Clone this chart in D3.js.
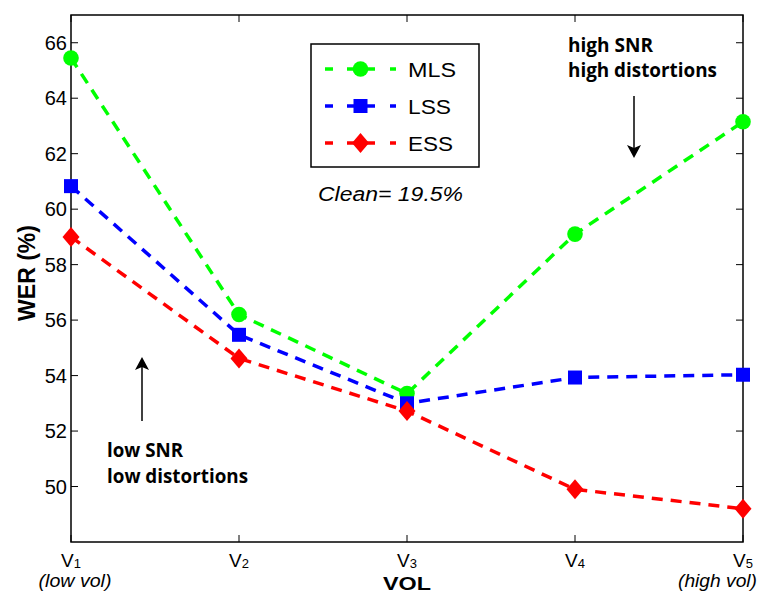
<!DOCTYPE html>
<html><head><meta charset="utf-8">
<script src="https://cdn.jsdelivr.net/npm/d3@7"></script>
<style>body{margin:0;background:#fff}</style>
</head><body>
<svg id="c" width="759" height="595"></svg>
<script>
const categories = ["1","2","3","4","5"];
const xSub = ["(low vol)","","","","(high vol)"];
const mls = [65.45, 56.2, 53.35, 59.1, 63.15];
const lss = [60.83, 55.47, 53.0, 53.93, 54.03];
const ess = [59.0, 54.62, 52.72, 49.9, 49.2];
const yTicks = [50,52,54,56,58,60,62,64,66];
const seriesNames = ["MLS","LSS","ESS"];

const svg = d3.select("#c");
const L=71, R=743, T=15, B=542;
const x = d3.scaleLinear().domain([1,5]).range([L,R]);
const y = d3.scaleLinear().domain([48,67]).range([B,T]);
const font = "'Liberation Sans', Arial, sans-serif";

svg.append("rect").attr("x",L).attr("y",T).attr("width",R-L).attr("height",B-T)
  .attr("fill","none").attr("stroke","#000").attr("stroke-width",1.5);

yTicks.forEach(v=>{
  const yy=y(v);
  svg.append("line").attr("x1",L).attr("x2",L+7).attr("y1",yy).attr("y2",yy).attr("stroke","#000");
  svg.append("line").attr("x1",R).attr("x2",R-7).attr("y1",yy).attr("y2",yy).attr("stroke","#000");
  svg.append("text").attr("x",L-4).attr("y",yy+7).attr("text-anchor","end")
    .attr("font-family",font).attr("font-size",20).text(v);
});
categories.forEach((c,i)=>{
  const xx=x(i+1);
  svg.append("line").attr("x1",xx).attr("x2",xx).attr("y1",B).attr("y2",B-7).attr("stroke","#000");
  svg.append("line").attr("x1",xx).attr("x2",xx).attr("y1",T).attr("y2",T+7).attr("stroke","#000");
  const t=svg.append("text").attr("x",xx).attr("y",567).attr("text-anchor","middle")
    .attr("font-family",font).attr("font-size",19);
  t.append("tspan").text("V");
  t.append("tspan").attr("font-size",13).attr("dy",1).text(c);
  if(xSub[i]){
    const last = i===categories.length-1;
    svg.append("text").attr("x",last?757:75).attr("y",587)
      .attr("text-anchor",last?"end":"middle")
      .attr("font-family",font).attr("font-size",18).attr("font-style","italic")
      .attr("textLength",last?79:73).attr("lengthAdjust","spacingAndGlyphs").text(xSub[i]);
  }
});

svg.append("text").attr("transform","translate(35,273) rotate(-90)").attr("text-anchor","middle")
  .attr("font-family",font).attr("font-size",23).attr("font-weight","bold").text("WER (%)");
svg.append("text").attr("x",407).attr("y",590).attr("text-anchor","middle")
  .attr("font-family",font).attr("font-size",19).attr("font-weight","bold")
  .attr("textLength",48).attr("lengthAdjust","spacingAndGlyphs").text("VOL");

const colors = ["#00ff00","#0000ff","#ff0000"];
const data = [mls, lss, ess];
const line = d3.line().x((d,i)=>x(i+1)).y(d=>y(d));
function marker(g,k,cx,cy){
  if(k===0) g.append("circle").attr("cx",cx).attr("cy",cy).attr("r",7.8).attr("fill",colors[k]);
  else if(k===1) g.append("rect").attr("x",cx-7).attr("y",cy-7).attr("width",14).attr("height",14).attr("fill",colors[k]);
  else g.append("path").attr("d",`M${cx},${cy-10}L${cx+8.5},${cy}L${cx},${cy+10}L${cx-8.5},${cy}Z`).attr("fill",colors[k]);
}

data.forEach((s,k)=>{
  svg.append("path").attr("d",line(s)).attr("fill","none").attr("stroke",colors[k])
    .attr("stroke-width",3.5).attr("stroke-dasharray","11,8");
});
data.forEach((s,k)=>{
  s.forEach((v,i)=>marker(svg,k,x(i+1),y(v)));
});

svg.append("rect").attr("x",311).attr("y",44).attr("width",168).attr("height",123)
  .attr("fill","#fff").attr("stroke","#000").attr("stroke-width",1.5);
const ly=[69,106,143];
seriesNames.forEach((n,k)=>{
  svg.append("line").attr("x1",325).attr("x2",396).attr("y1",ly[k]).attr("y2",ly[k])
    .attr("stroke",colors[k]).attr("stroke-width",3.5).attr("stroke-dasharray","8,14,28,15,6");
  marker(svg,k,360.5,ly[k]);
  svg.append("text").attr("x",408).attr("y",ly[k]+7.5).attr("font-family",font).attr("font-size",20.5)
    .attr("textLength",n==="MLS"?48:(n==="LSS"?43:45)).attr("lengthAdjust","spacingAndGlyphs").text(n);
});
svg.append("text").attr("x",318).attr("y",201)
  .attr("font-family",font).attr("font-size",20).attr("font-style","italic")
  .attr("textLength",145).attr("lengthAdjust","spacingAndGlyphs").text("Clean= 19.5%");

const afont="'Open Sans', 'Noto Sans', sans-serif";
const ann = [["high SNR",568,52,85],["high distortions",568,77,149],["low SNR",107,457,76],["low distortions",107,483,141]];
ann.forEach(a=>{
  svg.append("text").attr("x",a[1]).attr("y",a[2]).attr("font-family",afont).attr("font-weight","bold")
    .attr("font-size",19).attr("textLength",a[3]).attr("lengthAdjust","spacingAndGlyphs").text(a[0]);
});
svg.append("line").attr("x1",634).attr("x2",634).attr("y1",96).attr("y2",148).attr("stroke","#000").attr("stroke-width",1.5);
svg.append("path").attr("d","M627,145 L634,158 L641,145 L634,148 Z").attr("fill","#000");
svg.append("line").attr("x1",142).attr("x2",142).attr("y1",421).attr("y2",366).attr("stroke","#000").attr("stroke-width",1.5);
svg.append("path").attr("d","M135,370 L142,357 L149,370 L142,367 Z").attr("fill","#000");
</script>
</body></html>
